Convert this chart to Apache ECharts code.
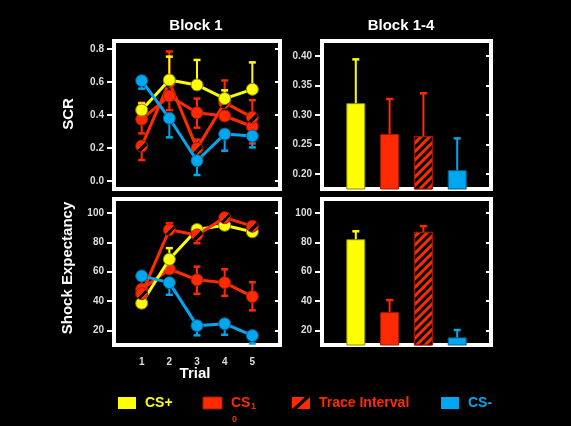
<!DOCTYPE html>
<html><head><meta charset="utf-8">
<script src="https://cdn.jsdelivr.net/npm/echarts@6/dist/echarts.min.js"></script>
<style>html,body{margin:0;padding:0;background:#000;}#c{width:571px;height:426px;}</style>
</head><body><div id="c"></div>
<script>
// ---------- data ----------
const trials = [1, 2, 3, 4, 5];
const trialLabels = ['1', '2', '3', '4', '5'];
const scrTicks = [0, 0.2, 0.4, 0.6, 0.8];
const shockTicks = [20, 40, 60, 80, 100];
const blockScrTicks = [0.20, 0.25, 0.30, 0.35, 0.40];
const barCategories = ['CS+', 'CS10', 'Trace Interval', 'CS-'];
const barPositions = [1, 2, 3, 4];

// Block 1 SCR (means per trial)
const scrCSplus  = [0.43, 0.613, 0.583, 0.50, 0.556];
const scrCS10    = [0.374, 0.516, 0.414, 0.394, 0.33];
const scrTrace   = [0.211, 0.60, 0.197, 0.475, 0.386];
const scrCSminus = [0.609, 0.38, 0.122, 0.284, 0.272];
// error bar ends: [trial, end value]
const scrCSplusErr  = [[1, 0.47], [2, 0.755], [3, 0.735], [4, 0.55], [5, 0.72]];
const scrCS10Err    = [[1, 0.288], [1, 0.475], [2, 0.43], [3, 0.50], [3, 0.323], [5, 0.227]];
const scrTraceErr   = [[1, 0.126], [2, 0.786], [3, 0.25], [4, 0.61], [5, 0.49]];
const scrCSminusErr = [[1, 0.56], [2, 0.264], [3, 0.035], [4, 0.183], [5, 0.203]];

// Block 1 Shock expectancy
const shockCSplus  = [38.5, 68.4, 88.7, 91.6, 87.1];
const shockCS10    = [48, 61.8, 54.4, 52.5, 43];
const shockTrace   = [45, 88.5, 85, 96.8, 91];
const shockCSminus = [57.1, 52.5, 23.2, 24.5, 16.4];
const shockCSplusErr  = [[2, 76]];
const shockCS10Err    = [[1, 55.5], [3, 63.4], [3, 44.9], [4, 61.6], [4, 43.5], [5, 52.8], [5, 33.6]];
const shockTraceErr   = [[1, 39.7], [2, 93], [3, 79.4]];
const shockCSminusErr = [[2, 44.2], [3, 16.6], [4, 17], [5, 11]];

// Block 1-4 bars
const blockScr      = [0.320, 0.268, 0.2644, 0.2068];
const blockScrErr   = [0.394, 0.327, 0.3368, 0.2605];
const blockShock    = [82.1, 32.4, 87.1, 15.2];
const blockShockErr = [87.5, 40.6, 91, 20.2];

// ---------- styling ----------
const YEL = '#ffff00', RED = '#ff2a00', CYA = '#00a6f0';
const FONT = '"Liberation Sans", Arial, sans-serif';
const traceFill = new echarts.graphic.LinearGradient(0, 0, 1, 1, [
  {offset: 0, color: RED}, {offset: 0.5, color: RED},
  {offset: 0.5, color: '#000'}, {offset: 0.68, color: '#000'},
  {offset: 0.68, color: RED}, {offset: 1, color: RED}
]);

const grids = [
  {left: 114, top: 41, width: 166, height: 148},
  {left: 322, top: 41, width: 169, height: 148},
  {left: 114, top: 199, width: 166, height: 146},
  {left: 322, top: 199, width: 169, height: 146}
].map(g => Object.assign(g, {show: true, borderColor: '#fff', borderWidth: 4, backgroundColor: '#000'}));

function yPair(gi, min, max, ticks, fmt) {
  return [
    {type: 'value', gridIndex: gi, min, max, position: 'left',
      axisLine: {show: false}, splitLine: {show: false},
      axisTick: {show: true, length: 7, lineStyle: {color: '#fff', width: 2}, customValues: ticks},
      axisLabel: {show: true, customValues: ticks, formatter: fmt, color: '#ddd', fontSize: 10,
        fontWeight: 'bold', fontFamily: FONT, margin: 10}},
    {type: 'value', gridIndex: gi, min, max, position: 'right',
      axisLine: {show: false}, splitLine: {show: false},
      axisTick: {show: true, inside: true, length: 5, lineStyle: {color: '#fff', width: 2}, customValues: ticks},
      axisLabel: {show: false}}
  ];
}
const yAxes = [].concat(
  yPair(0, -0.05, 0.85, scrTicks, v => v.toFixed(1)),
  yPair(1, 0.175, 0.425, blockScrTicks, v => v.toFixed(2)),
  yPair(2, 10, 109.5, shockTicks, v => String(Math.round(v))),
  yPair(3, 10, 109.5, shockTicks, v => String(Math.round(v)))
);
function xAx(gi, min, max, labels) {
  return {type: 'value', gridIndex: gi, min, max,
    axisLine: {show: false}, splitLine: {show: false}, axisTick: {show: false},
    axisLabel: labels ? {show: true, customValues: trials, formatter: v => trialLabels[v - 1],
      color: '#ddd', fontSize: 10, fontWeight: 'bold', fontFamily: FONT, margin: 12} : {show: false}};
}
const xAxes = [xAx(0, 0, 6, false), xAx(1, 0, 5, false), xAx(2, 0, 6, true), xAx(3, 0, 5, false)];

function errSeries(xi, yi, color, pairs, means, z) {
  return {type: 'custom', xAxisIndex: xi, yAxisIndex: yi, z, silent: true, animation: false,
    data: pairs.map(([x, e]) => [x, means[x - 1], e]),
    renderItem(params, api) {
      const p0 = api.coord([api.value(0), api.value(1)]);
      const p1 = api.coord([api.value(0), api.value(2)]);
      const cw = 3.5;
      return {type: 'group', children: [
        {type: 'line', shape: {x1: p0[0], y1: p0[1], x2: p1[0], y2: p1[1]}, style: {stroke: color, lineWidth: 2}},
        {type: 'line', shape: {x1: p1[0] - cw, y1: p1[1], x2: p1[0] + cw, y2: p1[1]}, style: {stroke: color, lineWidth: 2.5}}
      ]};
    }};
}
function lineSeries(xi, yi, color, vals, z, fill, border) {
  return {type: 'line', xAxisIndex: xi, yAxisIndex: yi, z, animation: false, silent: true,
    data: trials.map((t, i) => [t, vals[i]]),
    symbol: 'circle', symbolSize: 12, showAllSymbol: true,
    lineStyle: {color, width: 3},
    itemStyle: {color: fill || color, borderColor: border, borderWidth: 1, opacity: 1}};
}
const barStyles = [
  {color: YEL, borderColor: '#8a8a00', borderWidth: 1},
  {color: RED, borderColor: '#a01a00', borderWidth: 1},
  {color: RED, borderColor: '#a01a00', borderWidth: 1,
    decal: {symbol: 'rect', symbolSize: 1, dashArrayX: [1, 0], dashArrayY: [3, 3], rotation: -Math.PI / 4, color: '#000'}},
  {color: CYA, borderColor: '#00608a', borderWidth: 1}
];
const barErrColors = [YEL, RED, RED, CYA];
function barSeries(xi, yi, vals) {
  return {type: 'bar', xAxisIndex: xi, yAxisIndex: yi, barWidth: 19, z: 2, animation: false, silent: true,
    data: barPositions.map((p, i) => ({value: [p, vals[i]], itemStyle: barStyles[i]}))};
}
function barErr(xi, yi, vals, errs) {
  return barPositions.map((p, i) => errSeries(xi, yi, barErrColors[i], [[p, errs[i]]],
    barPositions.map((q, j) => vals[j]), 3));
}

const series = [
  // SCR Block 1
  errSeries(0, 0, RED, scrCS10Err, scrCS10, 2),
  errSeries(0, 0, RED, scrTraceErr, scrTrace, 2),
  errSeries(0, 0, YEL, scrCSplusErr, scrCSplus, 2),
  errSeries(0, 0, CYA, scrCSminusErr, scrCSminus, 2),
  lineSeries(0, 0, RED, scrCS10, 3, RED, '#a01a00'),
  lineSeries(0, 0, RED, scrTrace, 3, traceFill, '#a01a00'),
  lineSeries(0, 0, YEL, scrCSplus, 4, YEL, '#8a8a00'),
  lineSeries(0, 0, CYA, scrCSminus, 5, CYA, '#00608a'),
  // Shock Block 1
  errSeries(2, 4, RED, shockCS10Err, shockCS10, 2),
  errSeries(2, 4, RED, shockTraceErr, shockTrace, 2),
  errSeries(2, 4, YEL, shockCSplusErr, shockCSplus, 2),
  errSeries(2, 4, CYA, shockCSminusErr, shockCSminus, 2),
  lineSeries(2, 4, RED, shockCS10, 3, RED, '#a01a00'),
  lineSeries(2, 4, YEL, shockCSplus, 4, YEL, '#8a8a00'),
  lineSeries(2, 4, RED, shockTrace, 4, traceFill, '#a01a00'),
  lineSeries(2, 4, CYA, shockCSminus, 5, CYA, '#00608a'),
  // Bars
  barSeries(1, 2, blockScr),
  barSeries(3, 6, blockShock)
].concat(barErr(1, 2, blockScr, blockScrErr), barErr(3, 6, blockShock, blockShockErr));

function txt(x, y, text, size, color, extra) {
  return Object.assign({type: 'text', x, y, silent: true,
    style: {text, fill: color, font: 'bold ' + size + 'px ' + FONT, textAlign: 'center', textVerticalAlign: 'middle'}}, extra || {});
}
const graphic = [
  txt(196, 26, 'Block 1', 15, '#fff'),
  txt(401, 26, 'Block 1-4', 15, '#fff'),
  txt(69, 114, 'SCR', 15, '#fff', {rotation: Math.PI / 2}),
  txt(68, 268, 'Shock Expectancy', 15, '#fff', {rotation: Math.PI / 2}),
  txt(195, 374, 'Trial', 15, '#fff'),
  // legend
  {type: 'rect', shape: {x: 118, y: 397, width: 18, height: 12}, style: {fill: YEL}, silent: true},
  txt(145, 403, 'CS+', 14, YEL, {style: {text: 'CS+', fill: YEL, font: 'bold 14px ' + FONT, textAlign: 'left', textVerticalAlign: 'middle'}}),
  {type: 'rect', shape: {x: 203, y: 397, width: 19, height: 12}, style: {fill: RED, stroke: '#a01a00', lineWidth: 1}, silent: true},
  txt(231, 403, 'CS', 14, RED, {style: {text: 'CS', fill: RED, font: 'bold 14px ' + FONT, textAlign: 'left', textVerticalAlign: 'middle'}}),
  txt(251, 407, '1', 9, RED, {style: {text: '1', fill: RED, font: 'bold 9px ' + FONT, textAlign: 'left', textVerticalAlign: 'middle'}}),
  txt(232, 420, '0', 9, RED, {style: {text: '0', fill: RED, font: 'bold 9px ' + FONT, textAlign: 'left', textVerticalAlign: 'middle'}}),
  {type: 'rect', shape: {x: 292, y: 397, width: 18, height: 12}, style: {fill: RED}, silent: true},
  {type: 'polygon', shape: {points: [[292, 409], [297, 409], [310, 397], [305, 397]]}, style: {fill: '#000'}, silent: true},
  txt(319, 403, 'Trace Interval', 14, RED, {style: {text: 'Trace Interval', fill: RED, font: 'bold 14px ' + FONT, textAlign: 'left', textVerticalAlign: 'middle'}}),
  {type: 'rect', shape: {x: 441, y: 397, width: 18, height: 12}, style: {fill: CYA}, silent: true},
  txt(468, 403, 'CS-', 14, CYA, {style: {text: 'CS-', fill: CYA, font: 'bold 14px ' + FONT, textAlign: 'left', textVerticalAlign: 'middle'}})
];

const chart = echarts.init(document.getElementById('c'), null, {renderer: 'canvas'});
chart.setOption({
  backgroundColor: '#000',
  animation: false,
  grid: grids,
  xAxis: xAxes,
  yAxis: yAxes,
  series,
  graphic
});
</script>
</body></html>
